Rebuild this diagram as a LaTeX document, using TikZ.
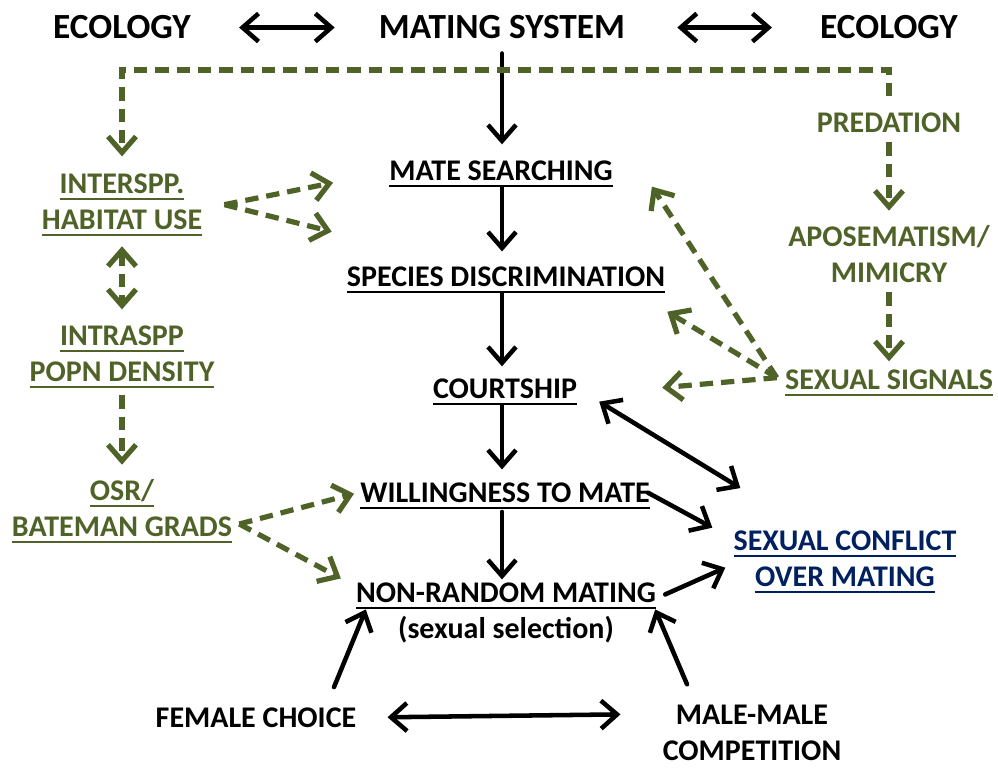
\documentclass[tikz,border=0pt]{standalone}
\usepackage{fontspec}
\setmainfont{Carlito}
\usetikzlibrary{arrows.meta,calc}
\definecolor{olv}{RGB}{79,98,40}
\definecolor{nvy}{RGB}{0,32,96}
\newcommand\ulx[1]{\setbox0=\hbox{#1}\rlap{\copy0}\rule[-5.25pt]{\wd0}{1.5pt}}
\begin{document}
\begin{tikzpicture}[x=0.75pt,y=-0.75pt,
 lbl/.style={font=\fontsize{22.5}{27}\selectfont\bfseries, inner sep=0pt, anchor=base, align=center},
 big/.style={lbl, font=\fontsize{26.5}{30}\selectfont\bfseries},
 grn/.style={lbl, text=olv},
 blu/.style={lbl, text=nvy},
 blk/.style={line width=3.4pt, line cap=round, -{Straight Barb[length=12pt,width=21pt]}},
 blk2/.style={line width=3.4pt, {Straight Barb[length=12pt,width=21pt]}-{Straight Barb[length=12pt,width=21pt]}},
 gd/.style={draw=olv, line width=3.9pt, dash pattern=on 10pt off 6pt, -{Straight Barb[length=12pt,width=21pt]}},
 gd2/.style={gd, {Straight Barb[length=12pt,width=21pt]}-{Straight Barb[length=12pt,width=21pt]}},
]
\useasboundingbox (0,0) rectangle (998,767);

% nodes (base anchor = baseline of last line)
\node[big] (ecoL) at (122,39) {ECOLOGY};
\node[big] (ms0) at (502,39) {MATING SYSTEM};
\node[big] (ecoR) at (889,39) {ECOLOGY};
\node[grn] (pred) at (889,132) {PREDATION};
\node[grn] (apo) at (889,282) {APOSEMATISM/\\MIMICRY};
\node[grn] (sig) at (889,389) {\ulx{SEXUAL SIGNALS}};
\node[grn] (hab) at (122,229) {\ulx{INTERSPP.}\\\ulx{HABITAT USE}};
\node[grn] (den) at (122,381) {\ulx{INTRASPP}\\\ulx{POPN DENSITY}};
\node[grn] (osr) at (122,536) {\ulx{OSR/}\\\ulx{BATEMAN GRADS}};
\node[lbl] (srch) at (501,180) {\ulx{MATE SEARCHING}};
\node[lbl] (disc) at (506,286) {\ulx{SPECIES DISCRIMINATION}};
\node[lbl] (court) at (505,398) {\ulx{COURTSHIP}};
\node[lbl] (will) at (505,502) {\ulx{WILLINGNESS TO MATE}};
\node[lbl] (nrm) at (506,638) {\ulx{NON-RANDOM MATING}\\(sexual selection)};
\node[blu] (conf) at (845,586) {\ulx{SEXUAL CONFLICT}\\\ulx{OVER MATING}};
\node[lbl] (fem) at (256,727) {FEMALE CHOICE};
\node[lbl] (male) at (752,760) {MALE-MALE\\COMPETITION};

\coordinate (cl) at (122,70);

% top double arrows
\draw[blk2, shorten <=36pt, shorten >=33pt] (ecoL.east) -- (ms0.west);
\draw[blk2, shorten <=39pt, shorten >=36pt] (ms0.east) -- (ecoR.west);

% main column
\draw[blk, shorten <=10.5pt, shorten >=11.8pt] (ms0.south) -- (ms0.south |- srch.north);
\draw[blk, shorten >=11pt] (ms0.south |- srch.south) -- (ms0.south |- disc.north);
\draw[blk, shorten >=8.8pt] (ms0.south |- disc.south) -- (ms0.south |- court.north);
\draw[blk, shorten >=9.5pt] (ms0.south |- court.south) -- (ms0.south |- will.north);
\draw[blk, shorten <=2pt, shorten >=2pt] (ms0.south |- will.south) -- (ms0.south |- nrm.north);

% green verticals
\draw[gd, shorten <=11.8pt, shorten >=12.5pt] (pred.north) -- (pred.north |- cl) -- (cl) -- (hab.north);
\draw[gd, shorten <=7.5pt, shorten >=10.5pt] (pred.south) -- (apo.north);
\draw[gd, shorten <=7.5pt, shorten >=5.8pt] (apo.south) -- (sig.north);
\draw[gd2, shorten <=7.5pt, shorten >=11.8pt] (hab.south) -- (den.north);
\draw[gd, shorten <=5.25pt, shorten >=10.5pt] (den.south) -- (osr.north);

% green diagonals
\draw[gd] ($(hab.east)+(22,0)$) -- ($(srch.west)+(-56,9)$);
\draw[gd] ($(hab.east)+(22,0)$) -- ($(disc.west)+(-15,-48)$);
\draw[gd] ($(osr.east)+(7,13)$) -- ($(will.west)+(-6,-2)$);
\draw[gd] ($(osr.east)+(7,13)$) -- ($(nrm.west)+(-15,-34)$);
\draw[gd] ($(sig.west)+(-8,-5)$) -- ($(srch.east)+(39,13)$);
\draw[gd] ($(sig.west)+(-8,-5)$) -- ($(disc.east)+(2,32)$);
\draw[gd] ($(sig.west)+(-8,-5)$) -- ($(court.east)+(85,-4)$);

% black diagonals
\draw[blk2] ($(court.east)+(22,10)$) -- ($(conf.north west)+(7,-42)$);
\draw[blk] ($(will.east)+(-2,-3)$) -- ($(conf.west)+(-21,-34)$);
\draw[blk] ($(nrm.east)+(9,-18)$) -- ($(conf.west)+(-8,6)$);
\draw[blk] ($(fem.north)+(78,-20)$) -- ($(nrm.west)+(10,-3)$);
\draw[blk] ($(male.north)+(-65,-20)$) -- ($(nrm.east)+(-1,-3)$);
\draw[blk2] ($(fem.east)+(31,0)$) -- ($(male.west)+(-42,-18)$);
\end{tikzpicture}
\end{document}
